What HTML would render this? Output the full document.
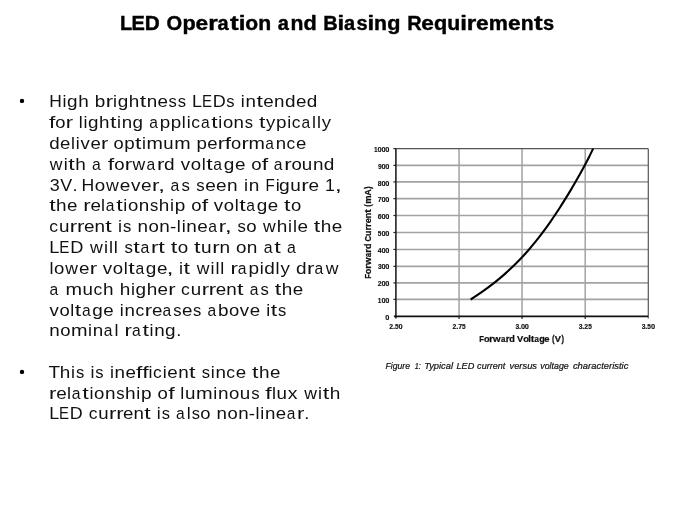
<!DOCTYPE html>
<html><head><meta charset="utf-8"><style>
html,body{margin:0;padding:0;background:#fff;width:675px;height:506px;overflow:hidden}
svg{position:absolute;left:0;top:0;filter:grayscale(1)}
text{font-family:"Liberation Sans",sans-serif;white-space:pre}
.ttl{font-weight:bold;font-size:20px;fill:#000;stroke:#000;stroke-width:0.4}
.bd{font-size:17.2px;fill:#111}
.tk{font-weight:bold;font-size:6.9px;fill:#111;stroke:#111;stroke-width:0.15}
.at{font-weight:bold;font-size:9.5px;fill:#111;stroke:#111;stroke-width:0.25}
.cap{font-style:italic;font-size:9.7px;fill:#111;stroke:#111;stroke-width:0.22}
</style></head><body>
<svg width="675" height="506" viewBox="0 0 675 506">
<line x1="395.9" y1="299.35" x2="648.0" y2="299.35" stroke="#a2a2a2" stroke-width="1.6"/>
<line x1="395.9" y1="282.90" x2="648.0" y2="282.90" stroke="#a2a2a2" stroke-width="1.6"/>
<line x1="395.9" y1="266.35" x2="648.0" y2="266.35" stroke="#a2a2a2" stroke-width="1.6"/>
<line x1="395.9" y1="249.45" x2="648.0" y2="249.45" stroke="#a2a2a2" stroke-width="1.6"/>
<line x1="395.9" y1="232.50" x2="648.0" y2="232.50" stroke="#a2a2a2" stroke-width="1.6"/>
<line x1="395.9" y1="215.50" x2="648.0" y2="215.50" stroke="#a2a2a2" stroke-width="1.6"/>
<line x1="395.9" y1="198.60" x2="648.0" y2="198.60" stroke="#a2a2a2" stroke-width="1.6"/>
<line x1="395.9" y1="181.90" x2="648.0" y2="181.90" stroke="#a2a2a2" stroke-width="1.6"/>
<line x1="395.9" y1="165.40" x2="648.0" y2="165.40" stroke="#a2a2a2" stroke-width="1.6"/>
<line x1="459.05" y1="148.6" x2="459.05" y2="316.4" stroke="#a2a2a2" stroke-width="1.5"/>
<line x1="522.05" y1="148.6" x2="522.05" y2="316.4" stroke="#a2a2a2" stroke-width="1.5"/>
<line x1="585.20" y1="148.6" x2="585.20" y2="316.4" stroke="#a2a2a2" stroke-width="1.5"/>
<line x1="395.9" y1="148.60" x2="648.0" y2="148.60" stroke="#555" stroke-width="1.2"/>
<line x1="648.30" y1="148.6" x2="648.30" y2="318.4" stroke="#555" stroke-width="1.2"/>
<line x1="395.90" y1="148.6" x2="395.90" y2="318.4" stroke="#222" stroke-width="1.6"/>
<line x1="393.9" y1="316.40" x2="648.0" y2="316.40" stroke="#111" stroke-width="1.6"/>
<line x1="393.4" y1="299.35" x2="395.9" y2="299.35" stroke="#222" stroke-width="1.2"/>
<line x1="393.4" y1="282.90" x2="395.9" y2="282.90" stroke="#222" stroke-width="1.2"/>
<line x1="393.4" y1="266.35" x2="395.9" y2="266.35" stroke="#222" stroke-width="1.2"/>
<line x1="393.4" y1="249.45" x2="395.9" y2="249.45" stroke="#222" stroke-width="1.2"/>
<line x1="393.4" y1="232.50" x2="395.9" y2="232.50" stroke="#222" stroke-width="1.2"/>
<line x1="393.4" y1="215.50" x2="395.9" y2="215.50" stroke="#222" stroke-width="1.2"/>
<line x1="393.4" y1="198.60" x2="395.9" y2="198.60" stroke="#222" stroke-width="1.2"/>
<line x1="393.4" y1="181.90" x2="395.9" y2="181.90" stroke="#222" stroke-width="1.2"/>
<line x1="393.4" y1="165.40" x2="395.9" y2="165.40" stroke="#222" stroke-width="1.2"/>
<line x1="393.4" y1="148.60" x2="395.9" y2="148.60" stroke="#222" stroke-width="1.2"/>
<line x1="459.05" y1="316.4" x2="459.05" y2="318.9" stroke="#222" stroke-width="1.2"/>
<line x1="522.05" y1="316.4" x2="522.05" y2="318.9" stroke="#222" stroke-width="1.2"/>
<line x1="585.20" y1="316.4" x2="585.20" y2="318.9" stroke="#222" stroke-width="1.2"/>
<path d="M470.66 299.50 L473.79 297.49 L476.83 295.48 L479.80 293.46 L482.68 291.45 L485.49 289.44 L488.22 287.43 L490.89 285.42 L493.48 283.40 L496.01 281.39 L498.48 279.38 L500.88 277.37 L503.23 275.36 L505.52 273.34 L507.75 271.33 L509.93 269.32 L512.06 267.31 L514.14 265.30 L516.17 263.28 L518.16 261.27 L520.10 259.26 L522.01 257.25 L523.87 255.24 L525.69 253.22 L527.48 251.21 L529.24 249.20 L530.95 247.19 L532.64 245.18 L534.30 243.16 L535.93 241.15 L537.53 239.14 L539.10 237.13 L540.65 235.12 L542.18 233.10 L543.68 231.09 L545.16 229.08 L546.62 227.07 L548.06 225.06 L549.48 223.04 L550.88 221.03 L552.27 219.02 L553.64 217.01 L554.99 215.00 L556.33 212.98 L557.66 210.97 L558.97 208.96 L560.27 206.95 L561.56 204.94 L562.83 202.92 L564.09 200.91 L565.35 198.90 L566.59 196.89 L567.82 194.88 L569.04 192.86 L570.25 190.85 L571.45 188.84 L572.64 186.83 L573.82 184.82 L574.99 182.80 L576.15 180.79 L577.30 178.78 L578.44 176.77 L579.57 174.76 L580.69 172.74 L581.80 170.73 L582.89 168.72 L583.98 166.71 L585.05 164.70 L586.11 162.68 L587.16 160.67 L588.19 158.66 L589.21 156.65 L590.21 154.64 L591.19 152.62 L592.16 150.61 L593.12 148.60" fill="none" stroke="#000" stroke-width="2.1" stroke-linejoin="round"/>
<text transform="translate(385.20 319.80) scale(1.070 1)" class="tk">0</text>
<text transform="translate(377.85 303.02) scale(0.941 1)" class="tk">1</text>
<text transform="translate(381.41 303.02) scale(1.070 1)" class="tk">0</text>
<text transform="translate(385.21 303.02) scale(1.070 1)" class="tk">0</text>
<text transform="translate(377.75 286.24) scale(0.991 1)" class="tk">2</text>
<text transform="translate(381.41 286.24) scale(1.070 1)" class="tk">0</text>
<text transform="translate(385.21 286.24) scale(1.070 1)" class="tk">0</text>
<text transform="translate(377.88 269.46) scale(0.967 1)" class="tk">3</text>
<text transform="translate(381.41 269.46) scale(1.070 1)" class="tk">0</text>
<text transform="translate(385.21 269.46) scale(1.070 1)" class="tk">0</text>
<text transform="translate(377.70 252.68) scale(0.985 1)" class="tk">4</text>
<text transform="translate(381.41 252.68) scale(1.070 1)" class="tk">0</text>
<text transform="translate(385.21 252.68) scale(1.070 1)" class="tk">0</text>
<text transform="translate(377.78 235.90) scale(0.934 1)" class="tk">5</text>
<text transform="translate(381.41 235.90) scale(1.070 1)" class="tk">0</text>
<text transform="translate(385.21 235.90) scale(1.070 1)" class="tk">0</text>
<text transform="translate(377.73 219.12) scale(1.019 1)" class="tk">6</text>
<text transform="translate(381.41 219.12) scale(1.070 1)" class="tk">0</text>
<text transform="translate(385.21 219.12) scale(1.070 1)" class="tk">0</text>
<text transform="translate(377.75 202.34) scale(1.018 1)" class="tk">7</text>
<text transform="translate(381.41 202.34) scale(1.070 1)" class="tk">0</text>
<text transform="translate(385.21 202.34) scale(1.070 1)" class="tk">0</text>
<text transform="translate(377.75 185.56) scale(0.988 1)" class="tk">8</text>
<text transform="translate(381.41 185.56) scale(1.070 1)" class="tk">0</text>
<text transform="translate(385.21 185.56) scale(1.070 1)" class="tk">0</text>
<text transform="translate(377.93 168.78) scale(0.964 1)" class="tk">9</text>
<text transform="translate(381.41 168.78) scale(1.070 1)" class="tk">0</text>
<text transform="translate(385.21 168.78) scale(1.070 1)" class="tk">0</text>
<text transform="translate(374.04 152.00) scale(0.941 1)" class="tk">1</text>
<text transform="translate(377.60 152.00) scale(1.070 1)" class="tk">0</text>
<text transform="translate(381.40 152.00) scale(1.070 1)" class="tk">0</text>
<text transform="translate(385.20 152.00) scale(1.070 1)" class="tk">0</text>
<text transform="translate(389.15 328.90) scale(0.991 1)" class="tk">2</text>
<text transform="translate(392.88 328.90) scale(1.125 1)" class="tk">.</text>
<text transform="translate(394.99 328.90) scale(0.934 1)" class="tk">5</text>
<text transform="translate(398.61 328.90) scale(1.070 1)" class="tk">0</text>
<text transform="translate(452.42 328.90) scale(0.991 1)" class="tk">2</text>
<text transform="translate(456.14 328.90) scale(1.125 1)" class="tk">.</text>
<text transform="translate(458.22 328.90) scale(1.018 1)" class="tk">7</text>
<text transform="translate(462.05 328.90) scale(0.934 1)" class="tk">5</text>
<text transform="translate(515.41 328.90) scale(0.967 1)" class="tk">3</text>
<text transform="translate(519.01 328.90) scale(1.125 1)" class="tk">.</text>
<text transform="translate(520.94 328.90) scale(1.070 1)" class="tk">0</text>
<text transform="translate(524.74 328.90) scale(1.070 1)" class="tk">0</text>
<text transform="translate(578.67 328.90) scale(0.967 1)" class="tk">3</text>
<text transform="translate(582.27 328.90) scale(1.125 1)" class="tk">.</text>
<text transform="translate(584.35 328.90) scale(0.991 1)" class="tk">2</text>
<text transform="translate(588.18 328.90) scale(0.934 1)" class="tk">5</text>
<text transform="translate(641.66 328.90) scale(0.967 1)" class="tk">3</text>
<text transform="translate(645.26 328.90) scale(1.125 1)" class="tk">.</text>
<text transform="translate(647.37 328.90) scale(0.934 1)" class="tk">5</text>
<text transform="translate(650.99 328.90) scale(1.070 1)" class="tk">0</text>
<text transform="translate(479.28 342.30) scale(0.817 1)" class="at">F</text>
<text transform="translate(483.93 342.30) scale(0.972 1)" class="at">o</text>
<text transform="translate(489.32 342.30) scale(1.006 1)" class="at">r</text>
<text transform="translate(493.11 342.30) scale(1.025 1)" class="at">w</text>
<text transform="translate(500.92 342.30) scale(0.830 1)" class="at">a</text>
<text transform="translate(505.69 342.30) scale(1.006 1)" class="at">r</text>
<text transform="translate(509.37 342.30) scale(0.961 1)" class="at">d</text>
<text transform="translate(517.09 342.30) scale(0.980 1)" class="at">V</text>
<text transform="translate(523.19 342.30) scale(0.972 1)" class="at">o</text>
<text transform="translate(528.27 342.30) scale(0.986 1)" class="at">l</text>
<text transform="translate(530.81 342.30) scale(1.137 1)" class="at">t</text>
<text transform="translate(534.54 342.30) scale(0.830 1)" class="at">a</text>
<text transform="translate(539.27 342.30) scale(0.945 1)" class="at">g</text>
<text transform="translate(544.21 342.30) scale(0.994 1)" class="at">e</text>
<text transform="translate(551.89 342.30) scale(0.800 1)" class="at">(</text>
<text transform="translate(554.82 342.30) scale(0.980 1)" class="at">V</text>
<text transform="translate(561.43 342.30) scale(0.800 1)" class="at">)</text>
<text transform="translate(370.5 0) rotate(-90) translate(-278.72 0.00) scale(0.807 1)" class="at">F</text>
<text transform="translate(370.5 0) rotate(-90) translate(-274.13 0.00) scale(0.960 1)" class="at">o</text>
<text transform="translate(370.5 0) rotate(-90) translate(-268.80 0.00) scale(0.993 1)" class="at">r</text>
<text transform="translate(370.5 0) rotate(-90) translate(-265.06 0.00) scale(1.012 1)" class="at">w</text>
<text transform="translate(370.5 0) rotate(-90) translate(-257.35 0.00) scale(0.819 1)" class="at">a</text>
<text transform="translate(370.5 0) rotate(-90) translate(-252.64 0.00) scale(0.993 1)" class="at">r</text>
<text transform="translate(370.5 0) rotate(-90) translate(-249.00 0.00) scale(0.949 1)" class="at">d</text>
<text transform="translate(370.5 0) rotate(-90) translate(-241.42 0.00) scale(0.817 1)" class="at">C</text>
<text transform="translate(370.5 0) rotate(-90) translate(-235.95 0.00) scale(0.943 1)" class="at">u</text>
<text transform="translate(370.5 0) rotate(-90) translate(-230.55 0.00) scale(0.993 1)" class="at">r</text>
<text transform="translate(370.5 0) rotate(-90) translate(-226.93 0.00) scale(0.993 1)" class="at">r</text>
<text transform="translate(370.5 0) rotate(-90) translate(-223.31 0.00) scale(0.982 1)" class="at">e</text>
<text transform="translate(370.5 0) rotate(-90) translate(-218.20 0.00) scale(0.938 1)" class="at">n</text>
<text transform="translate(370.5 0) rotate(-90) translate(-212.81 0.00) scale(1.123 1)" class="at">t</text>
<text transform="translate(370.5 0) rotate(-90) translate(-206.86 0.00) scale(0.800 1)" class="at">(</text>
<text transform="translate(370.5 0) rotate(-90) translate(-203.85 0.00) scale(0.979 1)" class="at">m</text>
<text transform="translate(370.5 0) rotate(-90) translate(-195.81 0.00) scale(0.963 1)" class="at">A</text>
<text transform="translate(370.5 0) rotate(-90) translate(-189.01 0.00) scale(0.800 1)" class="at">)</text>
<text x="385.51" y="369.0" class="cap" textLength="24.55" lengthAdjust="spacingAndGlyphs">Figure</text>
<text x="414.82" y="369.0" class="cap" textLength="6.07" lengthAdjust="spacingAndGlyphs">1:</text>
<text x="424.16" y="369.0" class="cap" textLength="28.92" lengthAdjust="spacingAndGlyphs">Typical</text>
<text x="456.52" y="369.0" class="cap" textLength="17.74" lengthAdjust="spacingAndGlyphs">LED</text>
<text x="477.10" y="369.0" class="cap" textLength="28.29" lengthAdjust="spacingAndGlyphs">current</text>
<text x="509.49" y="369.0" class="cap" textLength="27.55" lengthAdjust="spacingAndGlyphs">versus</text>
<text x="540.29" y="369.0" class="cap" textLength="28.46" lengthAdjust="spacingAndGlyphs">voltage</text>
<text x="572.88" y="369.0" class="cap" textLength="55.54" lengthAdjust="spacingAndGlyphs">characteristic</text>
<text transform="translate(120.04 30.00) scale(1.000 1)" class="ttl">L</text>
<text transform="translate(131.42 30.00) scale(1.000 1)" class="ttl">E</text>
<text transform="translate(144.87 30.00) scale(1.041 1)" class="ttl">D</text>
<text transform="translate(166.60 30.00) scale(1.004 1)" class="ttl">O</text>
<text transform="translate(182.42 30.00) scale(1.082 1)" class="ttl">p</text>
<text transform="translate(195.50 30.00) scale(1.133 1)" class="ttl">e</text>
<text transform="translate(208.18 30.00) scale(1.223 1)" class="ttl">r</text>
<text transform="translate(217.44 30.00) scale(1.000 1)" class="ttl">a</text>
<text transform="translate(230.00 30.00) scale(1.300 1)" class="ttl">t</text>
<text transform="translate(238.72 30.00) scale(1.201 1)" class="ttl">i</text>
<text transform="translate(245.19 30.00) scale(1.053 1)" class="ttl">o</text>
<text transform="translate(258.19 30.00) scale(1.060 1)" class="ttl">n</text>
<text transform="translate(277.78 30.00) scale(1.000 1)" class="ttl">a</text>
<text transform="translate(290.47 30.00) scale(1.060 1)" class="ttl">n</text>
<text transform="translate(303.53 30.00) scale(1.082 1)" class="ttl">d</text>
<text transform="translate(323.21 30.00) scale(1.000 1)" class="ttl">B</text>
<text transform="translate(337.40 30.00) scale(1.201 1)" class="ttl">i</text>
<text transform="translate(343.95 30.00) scale(1.000 1)" class="ttl">a</text>
<text transform="translate(356.56 30.00) scale(1.000 1)" class="ttl">s</text>
<text transform="translate(367.41 30.00) scale(1.201 1)" class="ttl">i</text>
<text transform="translate(374.09 30.00) scale(1.060 1)" class="ttl">n</text>
<text transform="translate(387.15 30.00) scale(1.082 1)" class="ttl">g</text>
<text transform="translate(407.14 30.00) scale(1.000 1)" class="ttl">R</text>
<text transform="translate(421.19 30.00) scale(1.133 1)" class="ttl">e</text>
<text transform="translate(433.90 30.00) scale(1.082 1)" class="ttl">q</text>
<text transform="translate(447.37 30.00) scale(1.061 1)" class="ttl">u</text>
<text transform="translate(460.35 30.00) scale(1.201 1)" class="ttl">i</text>
<text transform="translate(466.82 30.00) scale(1.223 1)" class="ttl">r</text>
<text transform="translate(475.94 30.00) scale(1.133 1)" class="ttl">e</text>
<text transform="translate(488.81 30.00) scale(1.074 1)" class="ttl">m</text>
<text transform="translate(507.95 30.00) scale(1.133 1)" class="ttl">e</text>
<text transform="translate(520.84 30.00) scale(1.060 1)" class="ttl">n</text>
<text transform="translate(533.96 30.00) scale(1.300 1)" class="ttl">t</text>
<text transform="translate(542.91 30.00) scale(1.000 1)" class="ttl">s</text>
<text transform="translate(49.26 107.30) scale(1.011 1)" class="bd">H</text>
<text transform="translate(62.52 107.30) scale(1.040 1)" class="bd">i</text>
<text transform="translate(67.06 107.30) scale(1.101 1)" class="bd">g</text>
<text transform="translate(78.18 107.30) scale(1.101 1)" class="bd">h</text>
<text transform="translate(94.83 107.30) scale(1.101 1)" class="bd">b</text>
<text transform="translate(105.65 107.30) scale(1.291 1)" class="bd">r</text>
<text transform="translate(113.12 107.30) scale(1.040 1)" class="bd">i</text>
<text transform="translate(117.66 107.30) scale(1.101 1)" class="bd">g</text>
<text transform="translate(128.79 107.30) scale(1.101 1)" class="bd">h</text>
<text transform="translate(139.70 107.30) scale(1.348 1)" class="bd">t</text>
<text transform="translate(146.68 107.30) scale(1.094 1)" class="bd">n</text>
<text transform="translate(157.57 107.30) scale(1.092 1)" class="bd">e</text>
<text transform="translate(168.61 107.30) scale(0.965 1)" class="bd">s</text>
<text transform="translate(177.67 107.30) scale(0.965 1)" class="bd">s</text>
<text transform="translate(191.96 107.30) scale(1.045 1)" class="bd">L</text>
<text transform="translate(201.89 107.30) scale(0.876 1)" class="bd">E</text>
<text transform="translate(212.64 107.30) scale(1.045 1)" class="bd">D</text>
<text transform="translate(226.32 107.30) scale(0.965 1)" class="bd">s</text>
<text transform="translate(240.85 107.30) scale(1.040 1)" class="bd">i</text>
<text transform="translate(245.53 107.30) scale(1.094 1)" class="bd">n</text>
<text transform="translate(256.39 107.30) scale(1.348 1)" class="bd">t</text>
<text transform="translate(263.23 107.30) scale(1.092 1)" class="bd">e</text>
<text transform="translate(274.07 107.30) scale(1.094 1)" class="bd">n</text>
<text transform="translate(284.94 107.30) scale(1.101 1)" class="bd">d</text>
<text transform="translate(295.99 107.30) scale(1.092 1)" class="bd">e</text>
<text transform="translate(306.68 107.30) scale(1.101 1)" class="bd">d</text>
<text transform="translate(49.05 128.13) scale(1.328 1)" class="bd">f</text>
<text transform="translate(55.26 128.13) scale(1.069 1)" class="bd">o</text>
<text transform="translate(65.79 128.13) scale(1.284 1)" class="bd">r</text>
<text transform="translate(78.72 128.13) scale(1.034 1)" class="bd">l</text>
<text transform="translate(83.53 128.13) scale(1.034 1)" class="bd">i</text>
<text transform="translate(88.04 128.13) scale(1.095 1)" class="bd">g</text>
<text transform="translate(99.11 128.13) scale(1.095 1)" class="bd">h</text>
<text transform="translate(109.96 128.13) scale(1.341 1)" class="bd">t</text>
<text transform="translate(117.05 128.13) scale(1.034 1)" class="bd">i</text>
<text transform="translate(121.71 128.13) scale(1.088 1)" class="bd">n</text>
<text transform="translate(132.53 128.13) scale(1.095 1)" class="bd">g</text>
<text transform="translate(149.23 128.13) scale(0.903 1)" class="bd">a</text>
<text transform="translate(159.79 128.13) scale(1.095 1)" class="bd">p</text>
<text transform="translate(170.77 128.13) scale(1.095 1)" class="bd">p</text>
<text transform="translate(181.85 128.13) scale(1.034 1)" class="bd">l</text>
<text transform="translate(186.66 128.13) scale(1.034 1)" class="bd">i</text>
<text transform="translate(191.23 128.13) scale(1.011 1)" class="bd">c</text>
<text transform="translate(200.91 128.13) scale(0.903 1)" class="bd">a</text>
<text transform="translate(211.26 128.13) scale(1.341 1)" class="bd">t</text>
<text transform="translate(218.35 128.13) scale(1.034 1)" class="bd">i</text>
<text transform="translate(222.89 128.13) scale(1.069 1)" class="bd">o</text>
<text transform="translate(233.59 128.13) scale(1.088 1)" class="bd">n</text>
<text transform="translate(244.76 128.13) scale(0.960 1)" class="bd">s</text>
<text transform="translate(258.90 128.13) scale(1.341 1)" class="bd">t</text>
<text transform="translate(266.02 128.13) scale(1.082 1)" class="bd">y</text>
<text transform="translate(276.12 128.13) scale(1.095 1)" class="bd">p</text>
<text transform="translate(287.21 128.13) scale(1.034 1)" class="bd">i</text>
<text transform="translate(291.78 128.13) scale(1.011 1)" class="bd">c</text>
<text transform="translate(301.46 128.13) scale(0.903 1)" class="bd">a</text>
<text transform="translate(312.12 128.13) scale(1.034 1)" class="bd">l</text>
<text transform="translate(316.93 128.13) scale(1.034 1)" class="bd">l</text>
<text transform="translate(321.76 128.13) scale(1.082 1)" class="bd">y</text>
<text transform="translate(49.15 148.96) scale(1.089 1)" class="bd">d</text>
<text transform="translate(60.07 148.96) scale(1.080 1)" class="bd">e</text>
<text transform="translate(70.94 148.96) scale(1.028 1)" class="bd">l</text>
<text transform="translate(75.71 148.96) scale(1.028 1)" class="bd">i</text>
<text transform="translate(80.52 148.96) scale(1.076 1)" class="bd">v</text>
<text transform="translate(90.39 148.96) scale(1.080 1)" class="bd">e</text>
<text transform="translate(100.93 148.96) scale(1.277 1)" class="bd">r</text>
<text transform="translate(113.51 148.96) scale(1.063 1)" class="bd">o</text>
<text transform="translate(124.20 148.96) scale(1.089 1)" class="bd">p</text>
<text transform="translate(134.91 148.96) scale(1.333 1)" class="bd">t</text>
<text transform="translate(141.97 148.96) scale(1.028 1)" class="bd">i</text>
<text transform="translate(146.52 148.96) scale(1.143 1)" class="bd">m</text>
<text transform="translate(163.31 148.96) scale(1.076 1)" class="bd">u</text>
<text transform="translate(174.18 148.96) scale(1.143 1)" class="bd">m</text>
<text transform="translate(196.50 148.96) scale(1.089 1)" class="bd">p</text>
<text transform="translate(207.24 148.96) scale(1.080 1)" class="bd">e</text>
<text transform="translate(217.79 148.96) scale(1.277 1)" class="bd">r</text>
<text transform="translate(224.78 148.96) scale(1.320 1)" class="bd">f</text>
<text transform="translate(230.96 148.96) scale(1.063 1)" class="bd">o</text>
<text transform="translate(241.43 148.96) scale(1.277 1)" class="bd">r</text>
<text transform="translate(248.61 148.96) scale(1.143 1)" class="bd">m</text>
<text transform="translate(265.21 148.96) scale(0.898 1)" class="bd">a</text>
<text transform="translate(275.66 148.96) scale(1.082 1)" class="bd">n</text>
<text transform="translate(286.48 148.96) scale(1.006 1)" class="bd">c</text>
<text transform="translate(295.88 148.96) scale(1.080 1)" class="bd">e</text>
<text transform="translate(49.79 169.79) scale(1.022 1)" class="bd">w</text>
<text transform="translate(63.72 169.79) scale(1.044 1)" class="bd">i</text>
<text transform="translate(68.25 169.79) scale(1.353 1)" class="bd">t</text>
<text transform="translate(75.21 169.79) scale(1.105 1)" class="bd">h</text>
<text transform="translate(91.95 169.79) scale(0.911 1)" class="bd">a</text>
<text transform="translate(107.86 169.79) scale(1.340 1)" class="bd">f</text>
<text transform="translate(114.13 169.79) scale(1.079 1)" class="bd">o</text>
<text transform="translate(124.76 169.79) scale(1.296 1)" class="bd">r</text>
<text transform="translate(132.60 169.79) scale(1.022 1)" class="bd">w</text>
<text transform="translate(146.47 169.79) scale(0.911 1)" class="bd">a</text>
<text transform="translate(156.90 169.79) scale(1.296 1)" class="bd">r</text>
<text transform="translate(164.11 169.79) scale(1.105 1)" class="bd">d</text>
<text transform="translate(180.75 169.79) scale(1.091 1)" class="bd">v</text>
<text transform="translate(190.77 169.79) scale(1.079 1)" class="bd">o</text>
<text transform="translate(201.73 169.79) scale(1.044 1)" class="bd">l</text>
<text transform="translate(206.26 169.79) scale(1.353 1)" class="bd">t</text>
<text transform="translate(213.35 169.79) scale(0.911 1)" class="bd">a</text>
<text transform="translate(223.82 169.79) scale(1.105 1)" class="bd">g</text>
<text transform="translate(234.90 169.79) scale(1.096 1)" class="bd">e</text>
<text transform="translate(251.20 169.79) scale(1.079 1)" class="bd">o</text>
<text transform="translate(261.75 169.79) scale(1.340 1)" class="bd">f</text>
<text transform="translate(273.78 169.79) scale(0.911 1)" class="bd">a</text>
<text transform="translate(284.21 169.79) scale(1.296 1)" class="bd">r</text>
<text transform="translate(291.44 169.79) scale(1.079 1)" class="bd">o</text>
<text transform="translate(301.82 169.79) scale(1.092 1)" class="bd">u</text>
<text transform="translate(312.92 169.79) scale(1.098 1)" class="bd">n</text>
<text transform="translate(323.84 169.79) scale(1.105 1)" class="bd">d</text>
<text transform="translate(49.65 190.62) scale(1.041 1)" class="bd">3</text>
<text transform="translate(60.26 190.62) scale(1.040 1)" class="bd">V</text>
<text transform="translate(72.50 190.62) scale(1.077 1)" class="bd">.</text>
<text transform="translate(81.47 190.62) scale(1.025 1)" class="bd">H</text>
<text transform="translate(94.63 190.62) scale(1.090 1)" class="bd">o</text>
<text transform="translate(106.03 190.62) scale(1.032 1)" class="bd">w</text>
<text transform="translate(119.81 190.62) scale(1.106 1)" class="bd">e</text>
<text transform="translate(130.97 190.62) scale(1.102 1)" class="bd">v</text>
<text transform="translate(141.08 190.62) scale(1.106 1)" class="bd">e</text>
<text transform="translate(151.88 190.62) scale(1.309 1)" class="bd">r</text>
<text transform="translate(158.05 190.62) scale(1.497 1)" class="bd">,</text>
<text transform="translate(170.60 190.62) scale(0.920 1)" class="bd">a</text>
<text transform="translate(181.52 190.62) scale(0.978 1)" class="bd">s</text>
<text transform="translate(196.30 190.62) scale(0.978 1)" class="bd">s</text>
<text transform="translate(205.14 190.62) scale(1.106 1)" class="bd">e</text>
<text transform="translate(215.98 190.62) scale(1.106 1)" class="bd">e</text>
<text transform="translate(226.96 190.62) scale(1.109 1)" class="bd">n</text>
<text transform="translate(243.88 190.62) scale(1.054 1)" class="bd">i</text>
<text transform="translate(248.63 190.62) scale(1.109 1)" class="bd">n</text>
<text transform="translate(265.57 190.62) scale(0.883 1)" class="bd">F</text>
<text transform="translate(275.69 190.62) scale(1.054 1)" class="bd">i</text>
<text transform="translate(279.00 190.62) scale(1.116 1)" class="bd">g</text>
<text transform="translate(290.30 190.62) scale(1.103 1)" class="bd">u</text>
<text transform="translate(301.33 190.62) scale(1.309 1)" class="bd">r</text>
<text transform="translate(308.61 190.62) scale(1.106 1)" class="bd">e</text>
<text transform="translate(325.12 190.62) scale(1.031 1)" class="bd">1</text>
<text transform="translate(334.77 190.62) scale(1.497 1)" class="bd">,</text>
<text transform="translate(49.13 211.45) scale(1.350 1)" class="bd">t</text>
<text transform="translate(56.07 211.45) scale(1.102 1)" class="bd">h</text>
<text transform="translate(67.02 211.45) scale(1.093 1)" class="bd">e</text>
<text transform="translate(83.23 211.45) scale(1.293 1)" class="bd">r</text>
<text transform="translate(90.42 211.45) scale(1.093 1)" class="bd">e</text>
<text transform="translate(101.04 211.45) scale(1.041 1)" class="bd">l</text>
<text transform="translate(105.81 211.45) scale(0.909 1)" class="bd">a</text>
<text transform="translate(116.23 211.45) scale(1.350 1)" class="bd">t</text>
<text transform="translate(123.37 211.45) scale(1.041 1)" class="bd">i</text>
<text transform="translate(127.93 211.45) scale(1.076 1)" class="bd">o</text>
<text transform="translate(138.71 211.45) scale(1.096 1)" class="bd">n</text>
<text transform="translate(149.95 211.45) scale(0.966 1)" class="bd">s</text>
<text transform="translate(158.76 211.45) scale(1.102 1)" class="bd">h</text>
<text transform="translate(170.00 211.45) scale(1.041 1)" class="bd">i</text>
<text transform="translate(174.73 211.45) scale(1.102 1)" class="bd">p</text>
<text transform="translate(191.15 211.45) scale(1.076 1)" class="bd">o</text>
<text transform="translate(201.68 211.45) scale(1.337 1)" class="bd">f</text>
<text transform="translate(213.77 211.45) scale(1.089 1)" class="bd">v</text>
<text transform="translate(223.77 211.45) scale(1.076 1)" class="bd">o</text>
<text transform="translate(234.69 211.45) scale(1.041 1)" class="bd">l</text>
<text transform="translate(239.22 211.45) scale(1.350 1)" class="bd">t</text>
<text transform="translate(246.29 211.45) scale(0.909 1)" class="bd">a</text>
<text transform="translate(256.73 211.45) scale(1.102 1)" class="bd">g</text>
<text transform="translate(267.79 211.45) scale(1.093 1)" class="bd">e</text>
<text transform="translate(284.01 211.45) scale(1.350 1)" class="bd">t</text>
<text transform="translate(290.88 211.45) scale(1.076 1)" class="bd">o</text>
<text transform="translate(49.21 232.28) scale(1.023 1)" class="bd">c</text>
<text transform="translate(58.88 232.28) scale(1.094 1)" class="bd">u</text>
<text transform="translate(69.82 232.28) scale(1.298 1)" class="bd">r</text>
<text transform="translate(77.01 232.28) scale(1.298 1)" class="bd">r</text>
<text transform="translate(83.93 232.28) scale(1.098 1)" class="bd">e</text>
<text transform="translate(94.44 232.28) scale(1.100 1)" class="bd">n</text>
<text transform="translate(105.36 232.28) scale(1.356 1)" class="bd">t</text>
<text transform="translate(118.09 232.28) scale(1.046 1)" class="bd">i</text>
<text transform="translate(123.00 232.28) scale(0.970 1)" class="bd">s</text>
<text transform="translate(137.46 232.28) scale(1.100 1)" class="bd">n</text>
<text transform="translate(148.42 232.28) scale(1.081 1)" class="bd">o</text>
<text transform="translate(159.24 232.28) scale(1.100 1)" class="bd">n</text>
<text transform="translate(170.01 232.28) scale(1.100 1)" class="bd">-</text>
<text transform="translate(176.79 232.28) scale(1.046 1)" class="bd">l</text>
<text transform="translate(181.65 232.28) scale(1.046 1)" class="bd">i</text>
<text transform="translate(186.35 232.28) scale(1.100 1)" class="bd">n</text>
<text transform="translate(197.30 232.28) scale(1.098 1)" class="bd">e</text>
<text transform="translate(208.28 232.28) scale(0.913 1)" class="bd">a</text>
<text transform="translate(218.74 232.28) scale(1.298 1)" class="bd">r</text>
<text transform="translate(224.86 232.28) scale(1.486 1)" class="bd">,</text>
<text transform="translate(237.42 232.28) scale(0.970 1)" class="bd">s</text>
<text transform="translate(246.20 232.28) scale(1.081 1)" class="bd">o</text>
<text transform="translate(263.08 232.28) scale(1.024 1)" class="bd">w</text>
<text transform="translate(276.83 232.28) scale(1.107 1)" class="bd">h</text>
<text transform="translate(288.12 232.28) scale(1.046 1)" class="bd">i</text>
<text transform="translate(292.98 232.28) scale(1.046 1)" class="bd">l</text>
<text transform="translate(297.55 232.28) scale(1.098 1)" class="bd">e</text>
<text transform="translate(313.84 232.28) scale(1.356 1)" class="bd">t</text>
<text transform="translate(320.80 232.28) scale(1.107 1)" class="bd">h</text>
<text transform="translate(331.81 232.28) scale(1.098 1)" class="bd">e</text>
<text transform="translate(49.22 253.11) scale(1.061 1)" class="bd">L</text>
<text transform="translate(59.29 253.11) scale(0.889 1)" class="bd">E</text>
<text transform="translate(70.19 253.11) scale(1.060 1)" class="bd">D</text>
<text transform="translate(89.96 253.11) scale(1.033 1)" class="bd">w</text>
<text transform="translate(104.05 253.11) scale(1.055 1)" class="bd">i</text>
<text transform="translate(108.95 253.11) scale(1.055 1)" class="bd">l</text>
<text transform="translate(113.85 253.11) scale(1.055 1)" class="bd">l</text>
<text transform="translate(124.42 253.11) scale(0.979 1)" class="bd">s</text>
<text transform="translate(133.24 253.11) scale(1.368 1)" class="bd">t</text>
<text transform="translate(140.41 253.11) scale(0.921 1)" class="bd">a</text>
<text transform="translate(150.96 253.11) scale(1.310 1)" class="bd">r</text>
<text transform="translate(158.22 253.11) scale(1.368 1)" class="bd">t</text>
<text transform="translate(170.74 253.11) scale(1.368 1)" class="bd">t</text>
<text transform="translate(177.70 253.11) scale(1.091 1)" class="bd">o</text>
<text transform="translate(194.06 253.11) scale(1.368 1)" class="bd">t</text>
<text transform="translate(201.11 253.11) scale(1.104 1)" class="bd">u</text>
<text transform="translate(212.15 253.11) scale(1.310 1)" class="bd">r</text>
<text transform="translate(219.58 253.11) scale(1.110 1)" class="bd">n</text>
<text transform="translate(235.94 253.11) scale(1.091 1)" class="bd">o</text>
<text transform="translate(246.86 253.11) scale(1.110 1)" class="bd">n</text>
<text transform="translate(263.73 253.11) scale(0.921 1)" class="bd">a</text>
<text transform="translate(274.29 253.11) scale(1.368 1)" class="bd">t</text>
<text transform="translate(287.07 253.11) scale(0.921 1)" class="bd">a</text>
<text transform="translate(49.45 273.94) scale(1.044 1)" class="bd">l</text>
<text transform="translate(54.02 273.94) scale(1.080 1)" class="bd">o</text>
<text transform="translate(65.32 273.94) scale(1.022 1)" class="bd">w</text>
<text transform="translate(78.97 273.94) scale(1.096 1)" class="bd">e</text>
<text transform="translate(89.68 273.94) scale(1.297 1)" class="bd">r</text>
<text transform="translate(102.76 273.94) scale(1.092 1)" class="bd">v</text>
<text transform="translate(112.79 273.94) scale(1.080 1)" class="bd">o</text>
<text transform="translate(123.75 273.94) scale(1.044 1)" class="bd">l</text>
<text transform="translate(128.28 273.94) scale(1.353 1)" class="bd">t</text>
<text transform="translate(135.38 273.94) scale(0.912 1)" class="bd">a</text>
<text transform="translate(145.85 273.94) scale(1.105 1)" class="bd">g</text>
<text transform="translate(156.94 273.94) scale(1.096 1)" class="bd">e</text>
<text transform="translate(166.58 273.94) scale(1.484 1)" class="bd">,</text>
<text transform="translate(179.07 273.94) scale(1.044 1)" class="bd">i</text>
<text transform="translate(183.61 273.94) scale(1.353 1)" class="bd">t</text>
<text transform="translate(196.66 273.94) scale(1.022 1)" class="bd">w</text>
<text transform="translate(210.60 273.94) scale(1.044 1)" class="bd">i</text>
<text transform="translate(215.45 273.94) scale(1.044 1)" class="bd">l</text>
<text transform="translate(220.30 273.94) scale(1.044 1)" class="bd">l</text>
<text transform="translate(230.38 273.94) scale(1.297 1)" class="bd">r</text>
<text transform="translate(237.82 273.94) scale(0.912 1)" class="bd">a</text>
<text transform="translate(248.47 273.94) scale(1.105 1)" class="bd">p</text>
<text transform="translate(259.66 273.94) scale(1.044 1)" class="bd">i</text>
<text transform="translate(264.22 273.94) scale(1.105 1)" class="bd">d</text>
<text transform="translate(275.60 273.94) scale(1.044 1)" class="bd">l</text>
<text transform="translate(280.48 273.94) scale(1.092 1)" class="bd">y</text>
<text transform="translate(296.04 273.94) scale(1.105 1)" class="bd">d</text>
<text transform="translate(307.09 273.94) scale(1.297 1)" class="bd">r</text>
<text transform="translate(314.53 273.94) scale(0.912 1)" class="bd">a</text>
<text transform="translate(325.63 273.94) scale(1.022 1)" class="bd">w</text>
<text transform="translate(49.38 294.77) scale(0.910 1)" class="bd">a</text>
<text transform="translate(65.45 294.77) scale(1.158 1)" class="bd">m</text>
<text transform="translate(82.47 294.77) scale(1.091 1)" class="bd">u</text>
<text transform="translate(93.47 294.77) scale(1.019 1)" class="bd">c</text>
<text transform="translate(103.08 294.77) scale(1.103 1)" class="bd">h</text>
<text transform="translate(119.67 294.77) scale(1.103 1)" class="bd">h</text>
<text transform="translate(130.93 294.77) scale(1.042 1)" class="bd">i</text>
<text transform="translate(135.48 294.77) scale(1.104 1)" class="bd">g</text>
<text transform="translate(146.63 294.77) scale(1.103 1)" class="bd">h</text>
<text transform="translate(157.60 294.77) scale(1.094 1)" class="bd">e</text>
<text transform="translate(168.29 294.77) scale(1.295 1)" class="bd">r</text>
<text transform="translate(181.09 294.77) scale(1.019 1)" class="bd">c</text>
<text transform="translate(190.72 294.77) scale(1.091 1)" class="bd">u</text>
<text transform="translate(201.63 294.77) scale(1.295 1)" class="bd">r</text>
<text transform="translate(208.79 294.77) scale(1.295 1)" class="bd">r</text>
<text transform="translate(215.69 294.77) scale(1.094 1)" class="bd">e</text>
<text transform="translate(226.17 294.77) scale(1.097 1)" class="bd">n</text>
<text transform="translate(237.06 294.77) scale(1.351 1)" class="bd">t</text>
<text transform="translate(249.68 294.77) scale(0.910 1)" class="bd">a</text>
<text transform="translate(260.49 294.77) scale(0.967 1)" class="bd">s</text>
<text transform="translate(274.74 294.77) scale(1.351 1)" class="bd">t</text>
<text transform="translate(281.69 294.77) scale(1.103 1)" class="bd">h</text>
<text transform="translate(292.65 294.77) scale(1.094 1)" class="bd">e</text>
<text transform="translate(49.47 315.60) scale(1.086 1)" class="bd">v</text>
<text transform="translate(59.44 315.60) scale(1.073 1)" class="bd">o</text>
<text transform="translate(70.34 315.60) scale(1.038 1)" class="bd">l</text>
<text transform="translate(74.85 315.60) scale(1.346 1)" class="bd">t</text>
<text transform="translate(81.90 315.60) scale(0.906 1)" class="bd">a</text>
<text transform="translate(92.31 315.60) scale(1.099 1)" class="bd">g</text>
<text transform="translate(103.34 315.60) scale(1.090 1)" class="bd">e</text>
<text transform="translate(119.83 315.60) scale(1.038 1)" class="bd">i</text>
<text transform="translate(124.50 315.60) scale(1.092 1)" class="bd">n</text>
<text transform="translate(135.42 315.60) scale(1.015 1)" class="bd">c</text>
<text transform="translate(144.87 315.60) scale(1.289 1)" class="bd">r</text>
<text transform="translate(152.05 315.60) scale(1.090 1)" class="bd">e</text>
<text transform="translate(162.57 315.60) scale(0.906 1)" class="bd">a</text>
<text transform="translate(173.33 315.60) scale(0.963 1)" class="bd">s</text>
<text transform="translate(182.03 315.60) scale(1.090 1)" class="bd">e</text>
<text transform="translate(193.05 315.60) scale(0.963 1)" class="bd">s</text>
<text transform="translate(207.49 315.60) scale(0.906 1)" class="bd">a</text>
<text transform="translate(218.09 315.60) scale(1.099 1)" class="bd">b</text>
<text transform="translate(228.94 315.60) scale(1.073 1)" class="bd">o</text>
<text transform="translate(239.87 315.60) scale(1.086 1)" class="bd">v</text>
<text transform="translate(249.83 315.60) scale(1.090 1)" class="bd">e</text>
<text transform="translate(266.31 315.60) scale(1.038 1)" class="bd">i</text>
<text transform="translate(270.82 315.60) scale(1.346 1)" class="bd">t</text>
<text transform="translate(278.00 315.60) scale(0.963 1)" class="bd">s</text>
<text transform="translate(49.29 336.43) scale(1.094 1)" class="bd">n</text>
<text transform="translate(60.19 336.43) scale(1.075 1)" class="bd">o</text>
<text transform="translate(70.88 336.43) scale(1.155 1)" class="bd">m</text>
<text transform="translate(88.03 336.43) scale(1.040 1)" class="bd">i</text>
<text transform="translate(92.71 336.43) scale(1.094 1)" class="bd">n</text>
<text transform="translate(103.82 336.43) scale(0.908 1)" class="bd">a</text>
<text transform="translate(114.54 336.43) scale(1.040 1)" class="bd">l</text>
<text transform="translate(124.57 336.43) scale(1.291 1)" class="bd">r</text>
<text transform="translate(131.97 336.43) scale(0.908 1)" class="bd">a</text>
<text transform="translate(142.38 336.43) scale(1.348 1)" class="bd">t</text>
<text transform="translate(149.51 336.43) scale(1.040 1)" class="bd">i</text>
<text transform="translate(154.19 336.43) scale(1.094 1)" class="bd">n</text>
<text transform="translate(165.06 336.43) scale(1.101 1)" class="bd">g</text>
<text transform="translate(176.17 336.43) scale(1.063 1)" class="bd">.</text>
<text transform="translate(48.53 378.00) scale(1.104 1)" class="bd">T</text>
<text transform="translate(59.86 378.00) scale(1.100 1)" class="bd">h</text>
<text transform="translate(71.08 378.00) scale(1.039 1)" class="bd">i</text>
<text transform="translate(75.96 378.00) scale(0.964 1)" class="bd">s</text>
<text transform="translate(90.49 378.00) scale(1.039 1)" class="bd">i</text>
<text transform="translate(95.37 378.00) scale(0.964 1)" class="bd">s</text>
<text transform="translate(109.89 378.00) scale(1.039 1)" class="bd">i</text>
<text transform="translate(114.57 378.00) scale(1.094 1)" class="bd">n</text>
<text transform="translate(125.45 378.00) scale(1.091 1)" class="bd">e</text>
<text transform="translate(136.03 378.00) scale(1.335 1)" class="bd">f</text>
<text transform="translate(142.15 378.00) scale(1.335 1)" class="bd">f</text>
<text transform="translate(148.41 378.00) scale(1.039 1)" class="bd">i</text>
<text transform="translate(153.00 378.00) scale(1.016 1)" class="bd">c</text>
<text transform="translate(162.79 378.00) scale(1.039 1)" class="bd">i</text>
<text transform="translate(167.33 378.00) scale(1.091 1)" class="bd">e</text>
<text transform="translate(178.16 378.00) scale(1.094 1)" class="bd">n</text>
<text transform="translate(189.01 378.00) scale(1.347 1)" class="bd">t</text>
<text transform="translate(201.72 378.00) scale(0.964 1)" class="bd">s</text>
<text transform="translate(210.72 378.00) scale(1.039 1)" class="bd">i</text>
<text transform="translate(215.40 378.00) scale(1.094 1)" class="bd">n</text>
<text transform="translate(226.33 378.00) scale(1.016 1)" class="bd">c</text>
<text transform="translate(235.83 378.00) scale(1.091 1)" class="bd">e</text>
<text transform="translate(252.02 378.00) scale(1.347 1)" class="bd">t</text>
<text transform="translate(258.95 378.00) scale(1.100 1)" class="bd">h</text>
<text transform="translate(269.88 378.00) scale(1.091 1)" class="bd">e</text>
<text transform="translate(49.12 398.50) scale(1.300 1)" class="bd">r</text>
<text transform="translate(56.35 398.50) scale(1.099 1)" class="bd">e</text>
<text transform="translate(67.03 398.50) scale(1.047 1)" class="bd">l</text>
<text transform="translate(71.82 398.50) scale(0.914 1)" class="bd">a</text>
<text transform="translate(82.30 398.50) scale(1.357 1)" class="bd">t</text>
<text transform="translate(89.48 398.50) scale(1.047 1)" class="bd">i</text>
<text transform="translate(94.06 398.50) scale(1.082 1)" class="bd">o</text>
<text transform="translate(104.90 398.50) scale(1.101 1)" class="bd">n</text>
<text transform="translate(116.20 398.50) scale(0.971 1)" class="bd">s</text>
<text transform="translate(125.05 398.50) scale(1.108 1)" class="bd">h</text>
<text transform="translate(136.35 398.50) scale(1.047 1)" class="bd">i</text>
<text transform="translate(141.10 398.50) scale(1.108 1)" class="bd">p</text>
<text transform="translate(157.61 398.50) scale(1.082 1)" class="bd">o</text>
<text transform="translate(168.19 398.50) scale(1.344 1)" class="bd">f</text>
<text transform="translate(180.32 398.50) scale(1.047 1)" class="bd">l</text>
<text transform="translate(185.00 398.50) scale(1.095 1)" class="bd">u</text>
<text transform="translate(196.05 398.50) scale(1.163 1)" class="bd">m</text>
<text transform="translate(213.32 398.50) scale(1.047 1)" class="bd">i</text>
<text transform="translate(218.04 398.50) scale(1.101 1)" class="bd">n</text>
<text transform="translate(229.00 398.50) scale(1.082 1)" class="bd">o</text>
<text transform="translate(239.80 398.50) scale(1.095 1)" class="bd">u</text>
<text transform="translate(251.14 398.50) scale(0.971 1)" class="bd">s</text>
<text transform="translate(265.36 398.50) scale(1.344 1)" class="bd">f</text>
<text transform="translate(271.92 398.50) scale(1.047 1)" class="bd">l</text>
<text transform="translate(276.60 398.50) scale(1.095 1)" class="bd">u</text>
<text transform="translate(287.71 398.50) scale(1.130 1)" class="bd">x</text>
<text transform="translate(304.14 398.50) scale(1.025 1)" class="bd">w</text>
<text transform="translate(318.11 398.50) scale(1.047 1)" class="bd">i</text>
<text transform="translate(322.66 398.50) scale(1.357 1)" class="bd">t</text>
<text transform="translate(329.63 398.50) scale(1.108 1)" class="bd">h</text>
<text transform="translate(49.21 419.00) scale(1.041 1)" class="bd">L</text>
<text transform="translate(59.10 419.00) scale(0.872 1)" class="bd">E</text>
<text transform="translate(69.80 419.00) scale(1.041 1)" class="bd">D</text>
<text transform="translate(88.64 419.00) scale(1.013 1)" class="bd">c</text>
<text transform="translate(98.21 419.00) scale(1.084 1)" class="bd">u</text>
<text transform="translate(109.04 419.00) scale(1.286 1)" class="bd">r</text>
<text transform="translate(116.16 419.00) scale(1.286 1)" class="bd">r</text>
<text transform="translate(123.01 419.00) scale(1.087 1)" class="bd">e</text>
<text transform="translate(133.42 419.00) scale(1.090 1)" class="bd">n</text>
<text transform="translate(144.23 419.00) scale(1.342 1)" class="bd">t</text>
<text transform="translate(156.84 419.00) scale(1.036 1)" class="bd">i</text>
<text transform="translate(161.71 419.00) scale(0.961 1)" class="bd">s</text>
<text transform="translate(176.11 419.00) scale(0.904 1)" class="bd">a</text>
<text transform="translate(186.79 419.00) scale(1.036 1)" class="bd">l</text>
<text transform="translate(191.66 419.00) scale(0.961 1)" class="bd">s</text>
<text transform="translate(200.35 419.00) scale(1.071 1)" class="bd">o</text>
<text transform="translate(216.57 419.00) scale(1.090 1)" class="bd">n</text>
<text transform="translate(227.42 419.00) scale(1.071 1)" class="bd">o</text>
<text transform="translate(238.14 419.00) scale(1.090 1)" class="bd">n</text>
<text transform="translate(248.80 419.00) scale(1.089 1)" class="bd">-</text>
<text transform="translate(255.52 419.00) scale(1.036 1)" class="bd">l</text>
<text transform="translate(260.33 419.00) scale(1.036 1)" class="bd">i</text>
<text transform="translate(264.99 419.00) scale(1.090 1)" class="bd">n</text>
<text transform="translate(275.83 419.00) scale(1.087 1)" class="bd">e</text>
<text transform="translate(286.70 419.00) scale(0.904 1)" class="bd">a</text>
<text transform="translate(297.06 419.00) scale(1.286 1)" class="bd">r</text>
<text transform="translate(304.28 419.00) scale(1.058 1)" class="bd">.</text>
<circle cx="22.0" cy="100.9" r="2.2" fill="#000"/>
<circle cx="22.0" cy="371.9" r="2.2" fill="#000"/>
</svg>
</body></html>
